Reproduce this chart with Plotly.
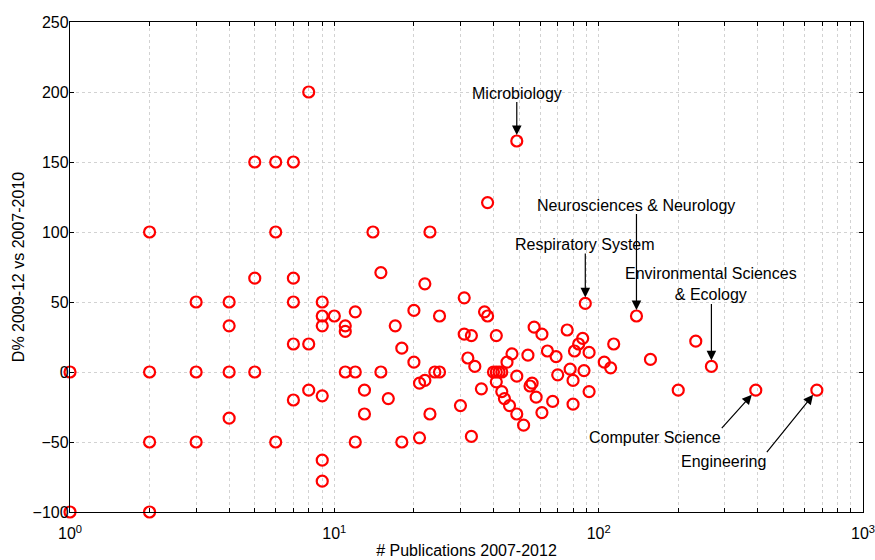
import numpy as np
import plotly.graph_objects as go

# ---- data: number of publications (2007-2012) and change D% (2009-12 vs 2007-2010)
publications = [
    1, 1,
    2, 2, 2, 2,
    3, 3, 3,
    4, 4, 4, 4,
    5, 5, 5,
    6, 6, 6,
    7, 7, 7, 7, 7,
    8, 8, 8,
    9, 9, 9, 9, 9, 9,
    10,
    11, 11, 11,
    12, 12, 12,
    13, 13,
    14,
    15, 15,
    16, 17,
    18, 18,
    20, 20,
    21, 21,
    22, 22,
    23, 23,
    24,
    25, 25,
    30,
    31, 31,
    32,
    33, 33,
    34, 36, 37,
    38, 38,
    40,
    41, 41, 41,
    42,
    43, 43,
    44, 45, 46, 47,
    49, 49, 49,
    52, 54, 55, 56, 57, 58,
    61, 61,
    64, 67, 69, 70, 76, 78,
    80, 80,
    81, 84, 87, 88, 89,
    92, 92,
    105, 111, 114, 139, 157, 200, 233, 267, 393, 669,
]
change_pct = [
    0, -100,
    100, 0, -50, -100,
    50, 0, -50,
    50, 33, 0, -33,
    150, 67, 0,
    150, 100, -50,
    150, 67, 50, 20, -20,
    200, 20, -13,
    50, 40, 33, -17, -63, -78,
    40,
    33, 29, 0,
    43, 0, -50,
    -13, -30,
    100,
    71, 0,
    -19, 33,
    17, -50,
    44, 7,
    -8, -47,
    63, -6,
    100, -30,
    0,
    0, 40,
    -24,
    53, 27,
    10,
    26, -46,
    4, -12, 43,
    40, 121,
    0,
    0, 26, -7,
    0,
    0, -14,
    -19, 7, -24, 13,
    165, -3, -30,
    -38, 12, -10, -8, 32, -18,
    27, -29,
    15, -21, 11, -2, 30, 2,
    -6, -23,
    15, 20, 24, 1, 49,
    14, -14,
    7, 3, 20, 40, 9, -13, 22, 4, -13, -13,
]

# labelled fields
label_names = ["Microbiology", "Neurosciences & Neurology", "Respiratory System",
               "Environmental Sciences<br>& Ecology", "Computer Science", "Engineering"]
label_x = [49, 139, 89, 267, 393, 669]
label_y = [165, 40, 49, 4, -13, -13]

# axis ticks
x_tick_vals = [1, 10, 100, 1000]
x_tick_text = ["10<sup>0</sup>", "10<sup>1</sup>", "10<sup>2</sup>", "10<sup>3</sup>"]
x_minor_vals = [m * d for d in (1, 10, 100) for m in range(2, 10)]
y_tick_vals = [-100, -50, 0, 50, 100, 150, 200, 250]

FONT = "Liberation Sans, Arial, Helvetica, sans-serif"

fig = go.Figure()
fig.add_trace(go.Scatter(
    x=publications, y=change_pct, mode="markers",
    marker=dict(symbol="circle-open", size=11, color="#ff0000",
                line=dict(width=2.2, color="#ff0000")),
    cliponaxis=False, showlegend=False, hoverinfo="x+y",
))

# annotation layout: (ax, ay, xanchor, yanchor)
label_style = [
    (0, -48, "center", "middle"),
    (0, -111, "center", "middle"),
    (0, -59, "center", "middle"),
    (0, -82, "center", "middle"),
    (-34, 38, "right", "top"),
    (-50, 62, "right", "top"),
]
for name, lx, ly, (ax, ay, xa, ya) in zip(label_names, label_x, label_y, label_style):
    fig.add_annotation(
        x=np.log10(lx), y=ly, xref="x", yref="y", text=name,
        showarrow=True, arrowhead=2, arrowsize=1.6, arrowwidth=1.2,
        arrowcolor="black", ax=ax, ay=ay, axref="pixel", ayref="pixel",
        xanchor=xa, yanchor=ya, standoff=6, startstandoff=0,
        font=dict(family=FONT, size=16, color="black"), borderpad=0,
    )

axis_common = dict(
    showline=True, linecolor="black", linewidth=1.3, mirror="ticks",
    ticks="inside", ticklen=4, tickcolor="black", tickwidth=1.3,
    showgrid=True, gridcolor="#d2d2d2", griddash="dot", gridwidth=1,
    zeroline=False, tickfont=dict(family=FONT, size=16, color="black"),
    automargin=False, ticklabeloverflow="allow",
)

fig.update_xaxes(
    type="log", range=[0, 3], tickmode="array", tickvals=x_tick_vals,
    ticktext=x_tick_text, ticklabelstandoff=7,
    minor=dict(tickmode="array", tickvals=x_minor_vals, ticks="inside",
               ticklen=4, tickcolor="black", tickwidth=1.1, showgrid=True,
               gridcolor="#d2d2d2", griddash="dot", gridwidth=1),
    title=dict(text="# Publications 2007-2012", font=dict(family=FONT, size=16, color="black"),
               standoff=3),
    **axis_common,
)
fig.update_yaxes(
    range=[-100, 250], tickmode="array", tickvals=y_tick_vals, ticklabelstandoff=-3,
    title=dict(text="D% 2009-12 vs 2007-2010", font=dict(family=FONT, size=16, color="black"),
               standoff=4),
    **axis_common,
)

fig.update_layout(
    width=875, height=560,
    margin=dict(l=70, r=12, t=22, b=48),
    plot_bgcolor="white", paper_bgcolor="white",
    font=dict(family=FONT, color="black"),
)

fig.write_html("out.html")
